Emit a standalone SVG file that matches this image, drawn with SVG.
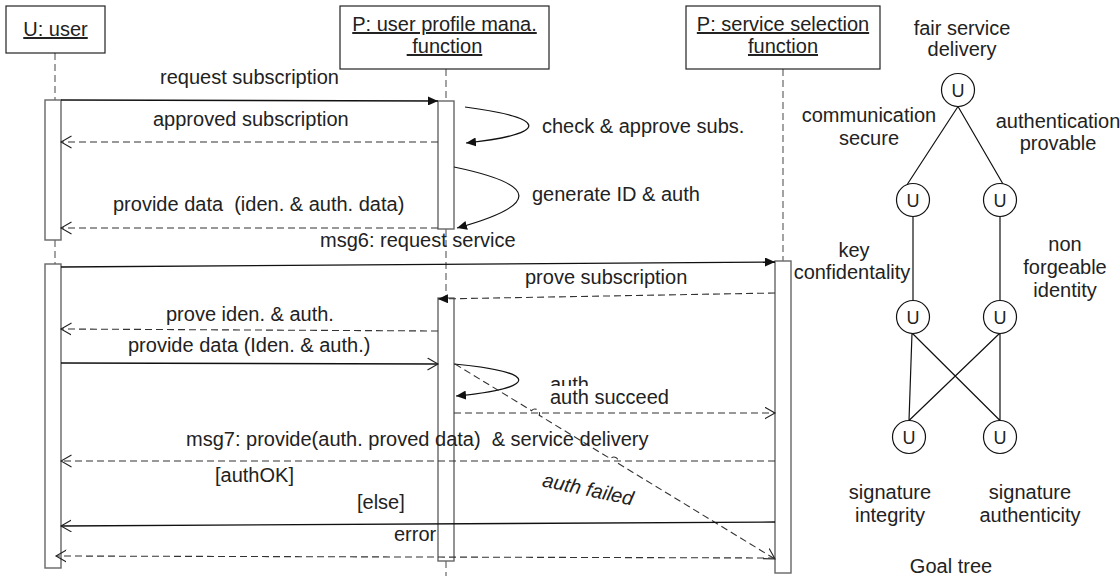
<svg xmlns="http://www.w3.org/2000/svg" width="1120" height="578" viewBox="0 0 1120 578">
<defs>
<style>
text{font-family:"Liberation Sans",Arial,sans-serif;font-size:20px;fill:#222}
.hd{text-decoration:underline;text-anchor:middle;white-space:pre}
.mid{text-anchor:middle}
.box{fill:#fff;stroke:#222;stroke-width:1.2}
.life{stroke:#666;stroke-width:1.2;stroke-dasharray:7 4;fill:none}
.bar{fill:#fff;stroke:#666;stroke-width:1.4}
.sol{stroke:#111;stroke-width:1.3;fill:none}
.dash{stroke:#333;stroke-width:1.1;stroke-dasharray:7 4;fill:none}
.tl{stroke:#111;stroke-width:1.2;fill:none}
.gc{fill:#fff;stroke:#111;stroke-width:1.2}
.gu{font-size:18px;text-anchor:middle}
</style>
<marker id="fa" markerUnits="userSpaceOnUse" markerWidth="11" markerHeight="9" refX="10" refY="4.5" orient="auto"><path d="M0,0 L10,4.5 L0,9 z" fill="#111"/></marker>
<marker id="oa" markerUnits="userSpaceOnUse" markerWidth="12" markerHeight="14" refX="10.5" refY="6.5" orient="auto"><path d="M0,0.5 L10.5,6.5 L0,12.5" fill="none" stroke="#222" stroke-width="1.1"/></marker>
</defs>
<rect width="1120" height="578" fill="#fff"/>

<g id="lifelines">
<path class="life" d="M55,53 V100 M55,240 V264"/>
<path class="life" d="M446,69 V101 M446,229 V298 M446,561 V576"/>
<path class="life" d="M783,69 V261"/>
</g>

<g id="node-user">
<rect class="box" x="6" y="6" width="99" height="47"/>
<text class="hd" x="55.5" y="36">U: user</text>
<rect class="bar" x="45" y="100" width="16" height="140"/>
<rect class="bar" x="45" y="264" width="16" height="304"/>
</g>

<g id="node-profile">
<rect class="box" x="340" y="6" width="209" height="63"/>
<text class="hd" x="444.5" y="31">P: user profile mana.</text>
<text class="hd" x="444.5" y="53"> function</text>
<rect class="bar" x="438" y="101" width="16" height="128"/>
<rect class="bar" x="438" y="298" width="16" height="263"/>
</g>

<g id="node-service">
<rect class="box" x="686" y="6" width="194" height="63"/>
<text class="hd" x="783" y="31">P: service selection</text>
<text class="hd" x="783" y="53">function</text>
<rect class="bar" x="775" y="261" width="16" height="312"/>
</g>

<g id="connectors">
<path class="sol" d="M61,100 L438,101" marker-end="url(#fa)"/>
<path class="dash" d="M438,142 L61,142" marker-end="url(#oa)"/>
<path class="tl" d="M465,107 C550,118 550,134 466,143" marker-end="url(#fa)"/>
<path class="tl" d="M454,167 C540,185 540,205 457,228" marker-end="url(#fa)"/>
<path class="dash" d="M438,228 L61,228" marker-end="url(#oa)"/>
<path class="sol" d="M61,267 L775,262" marker-end="url(#fa)"/>
<path class="dash" d="M775,293 L438,299" marker-end="url(#fa)"/>
<path class="dash" d="M438,331 L61,329" marker-end="url(#oa)"/>
<path class="sol" d="M61,363 L438,364" marker-end="url(#oa)"/>
<path class="tl" d="M454,364 C540,372 540,388 456,396" marker-end="url(#fa)"/>
<path class="dash" d="M454,413 L775,413" marker-end="url(#oa)"/>
<path class="dash" d="M775,461 L61,461" marker-end="url(#oa)"/>
<path class="dash" d="M455,364 L531.6,410.7 A4.5,4.5 0 0 1 539.2,415.3 L610.4,458.7 A4.5,4.5 0 0 1 618,463.3 L775,559" marker-end="url(#oa)"/>
<path class="sol" d="M775,522 L61,526" marker-end="url(#oa)"/>
<path class="dash" d="M775,558 L56,556" marker-end="url(#oa)"/>
</g>

<g id="labels">
<text x="160" y="84">request subscription</text>
<text x="153" y="126">approved subscription</text>
<text x="542" y="133">check &amp; approve subs.</text>
<text x="532" y="201">generate ID &amp; auth</text>
<text x="113" y="211" style="white-space:pre">provide data  (iden. &amp; auth. data)</text>
<text x="320" y="247">msg6: request service</text>
<text x="525" y="284">prove subscription</text>
<text x="166" y="321">prove iden. &amp; auth.</text>
<text x="128" y="352">provide data (Iden. &amp; auth.)</text>
<text x="550" y="391">auth</text>
<rect x="546" y="386" width="130" height="20" fill="#fff"/>
<text x="550" y="404">auth succeed</text>
<text x="186" y="446" style="white-space:pre">msg7: provide(auth. proved data)  &amp; service delivery</text>
<text x="215" y="482">[authOK]</text>
<text x="588" y="496" class="mid" font-style="italic" transform="rotate(12 588 490)">auth failed</text>
<text x="357" y="509">[else]</text>
<text x="394" y="541">error</text>
</g>

<g id="goal-tree">
<g id="tree-edges">
<path class="tl" d="M958,106.5 L907.5,184 M958,106.5 L1003,184"/>
<path class="tl" d="M913,216.5 V300.5 M1000,216.5 V300.5"/>
<path class="tl" d="M912,333 L909,420.5 M912,333 L1000,420.5 M1000,333 L909,420.5 M1000,333 L1000,420.5"/>
</g>
<g id="g-root"><circle class="gc" cx="958" cy="90" r="16.5"/><text class="gu" x="958" y="96.5">U</text></g>
<g id="g-comm"><circle class="gc" cx="913" cy="200" r="16.5"/><text class="gu" x="913" y="206.5">U</text></g>
<g id="g-authp"><circle class="gc" cx="1000" cy="200" r="16.5"/><text class="gu" x="1000" y="206.5">U</text></g>
<g id="g-key"><circle class="gc" cx="913" cy="317" r="16.5"/><text class="gu" x="913" y="323.5">U</text></g>
<g id="g-nonf"><circle class="gc" cx="1000" cy="317" r="16.5"/><text class="gu" x="1000" y="323.5">U</text></g>
<g id="g-sint"><circle class="gc" cx="909" cy="437" r="16.5"/><text class="gu" x="909" y="443.5">U</text></g>
<g id="g-saut"><circle class="gc" cx="1000" cy="437" r="16.5"/><text class="gu" x="1000" y="443.5">U</text></g>
<text class="mid" x="962" y="35">fair service</text>
<text class="mid" x="962" y="56">delivery</text>
<text class="mid" x="869" y="122">communication</text>
<text class="mid" x="869" y="145">secure</text>
<text class="mid" x="1058" y="128">authentication</text>
<text class="mid" x="1058" y="150">provable</text>
<text class="mid" x="854" y="257">key</text>
<text class="mid" x="852" y="279">confidentality</text>
<text class="mid" x="1065" y="251">non</text>
<text class="mid" x="1065" y="274">forgeable</text>
<text class="mid" x="1065" y="297">identity</text>
<text class="mid" x="890" y="499">signature</text>
<text class="mid" x="890" y="522">integrity</text>
<text class="mid" x="1030" y="499">signature</text>
<text class="mid" x="1030" y="522">authenticity</text>
<text class="mid" x="951" y="573">Goal tree</text>
</g>
</svg>
